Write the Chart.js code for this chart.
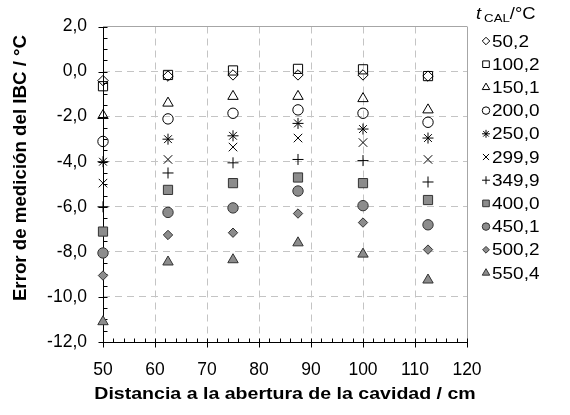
<!DOCTYPE html>
<html>
<head>
<meta charset="utf-8">
<script src="https://cdn.jsdelivr.net/npm/chart.js@4/dist/chart.umd.min.js"></script>
<style>
    html, body { margin: 0; padding: 0; background: #fff; }
    .canvas { width: 570px; height: 415px; }
</style>
</head>
<body>
<div class="canvas"><canvas id="errChart" width="570" height="415"></canvas></div>
<script>
// distancias medidas (cm)
const distancias = [50, 62.5, 75, 87.5, 100, 112.5];

// error de medicion por temperatura de calibracion (°C)
const t50_2 = [-0.4, -0.2, -0.15, -0.15, -0.15, -0.2];
const t100_2 = [-0.65, -0.15, 0.05, 0.12, 0.1, -0.2];
const t150_1 = [-1.95, -1.4, -1.1, -1.1, -1.2, -1.7];
const t200_0 = [-3.1, -2.1, -1.85, -1.7, -1.85, -2.25];
const t250_0 = [-4.0, -3.0, -2.85, -2.3, -2.55, -2.95];
const t299_9 = [-4.95, -3.9, -3.35, -2.95, -3.15, -3.9];
const t349_9 = [-6.0, -4.5, -4.05, -3.9, -3.95, -4.9];
const t400_0 = [-7.1, -5.25, -4.95, -4.7, -4.95, -5.7];
const t450_1 = [-8.05, -6.25, -6.05, -5.3, -5.95, -6.8];
const t500_2 = [-9.05, -7.25, -7.15, -6.3, -6.7, -7.9];
const t550_4 = [-11.1, -8.45, -8.35, -7.6, -8.1, -9.25];

const etiquetas = ['50,2', '100,2', '150,1', '200,0', '250,0', '299,9', '349,9', '400,0', '450,1', '500,2', '550,4'];
const series = [t50_2, t100_2, t150_1, t200_0, t250_0, t299_9, t349_9, t400_0, t450_1, t500_2, t550_4];

const GRIS = '#8c8c8c';
const HUECO = 'rgba(0,0,0,0)';
const estilos = [
    { pointStyle: 'rectRot', radius: 5.2, fill: HUECO, border: '#000' },
    { pointStyle: 'rect', radius: 6.5, fill: HUECO, border: '#000' },
    { pointStyle: 'triangle', radius: 6, fill: HUECO, border: '#000' },
    { pointStyle: 'circle', radius: 5.2, fill: HUECO, border: '#000' },
    { pointStyle: 'star', radius: 5.5, fill: HUECO, border: '#000' },
    { pointStyle: 'crossRot', radius: 6, fill: HUECO, border: '#000' },
    { pointStyle: 'cross', radius: 5.5, fill: HUECO, border: '#000' },
    { pointStyle: 'rect', radius: 6.5, fill: GRIS, border: '#333' },
    { pointStyle: 'circle', radius: 5.2, fill: GRIS, border: '#333' },
    { pointStyle: 'rectRot', radius: 4.7, fill: GRIS, border: '#333' },
    { pointStyle: 'triangle', radius: 6, fill: GRIS, border: '#333' },
];

const FUENTE = "'Liberation Sans', Arial, sans-serif";
const ESTIRA = 1.15; // el original esta algo estirado en horizontal
Chart.defaults.font.family = FUENTE;
Chart.defaults.font.size = 17.5;
Chart.defaults.color = '#000';

const datasets = series.map((s, i) => ({
    label: etiquetas[i],
    data: s.map((v, j) => ({ x: distancias[j], y: v })),
    showLine: false,
    clip: false,
    pointStyle: estilos[i].pointStyle,
    pointRadius: estilos[i].radius,
    pointHoverRadius: estilos[i].radius,
    pointBackgroundColor: estilos[i].fill,
    pointBorderColor: estilos[i].border,
    pointBorderWidth: 1,
}));

function coma(v) {
    return v.toFixed(1).replace('.', ',');
}

function textoEstirado(ctx, txt, x, y) {
    ctx.save();
    ctx.translate(x, y);
    ctx.scale(ESTIRA, 1);
    ctx.fillText(txt, 0, 0);
    ctx.restore();
    return ctx.measureText(txt).width * ESTIRA;
}

// ejes, ticks menores, titulos y leyenda
const extras = {
    id: 'extras',
    beforeDatasetsDraw(chart) {
        const ctx = chart.ctx;
        const xs = chart.scales.x;
        const ys = chart.scales.y;
        const area = chart.chartArea;
        const x0 = Math.round(area.left) + 0.5;
        const y0 = Math.round(area.bottom) + 0.5;
        ctx.save();
        ctx.strokeStyle = '#000';
        ctx.lineWidth = 1;
        ctx.beginPath();
        ctx.moveTo(x0, Math.round(area.top));
        ctx.lineTo(x0, y0);
        ctx.lineTo(Math.round(area.right) + 1, y0);
        for (let v = -12; v <= 2.001; v += 0.5) {
            const y = Math.round(ys.getPixelForValue(v)) + 0.5;
            const mayor = Math.abs(v % 2) < 0.001;
            ctx.moveTo(x0 - (mayor ? 5 : 0), y);
            ctx.lineTo(x0 + 4, y);
        }
        for (let v = 50; v <= 120; v += 2) {
            const x = Math.round(xs.getPixelForValue(v)) + 0.5;
            const mayor = v % 10 === 0;
            ctx.moveTo(x, y0 + (mayor ? 5 : 0));
            ctx.lineTo(x, y0 - 4);
        }
        ctx.stroke();
        ctx.restore();
    },
    afterDraw(chart) {
        const ctx = chart.ctx;
        const area = chart.chartArea;
        ctx.save();
        ctx.fillStyle = '#000';

        // titulos de ejes
        ctx.font = 'bold 17px ' + FUENTE;
        ctx.textAlign = 'center';
        ctx.textBaseline = 'middle';
        textoEstirado(ctx, 'Distancia a la abertura de la cavidad / cm', (area.left + area.right) / 2, 394);
        ctx.save();
        ctx.translate(21, 168);
        ctx.rotate(-Math.PI / 2);
        ctx.scale(1.1, 1.08);
        ctx.fillText('Error de medición del IBC / °C', 0, 0);
        ctx.restore();

        // leyenda
        ctx.textAlign = 'left';
        ctx.textBaseline = 'alphabetic';
        let tx = 476;
        ctx.font = 'italic 16px ' + FUENTE;
        tx += textoEstirado(ctx, 't', tx, 19) + 3;
        ctx.font = '11.5px ' + FUENTE;
        tx += textoEstirado(ctx, 'CAL', tx, 22);
        ctx.font = '16px ' + FUENTE;
        textoEstirado(ctx, '/°C', tx, 19);

        ctx.textBaseline = 'middle';
        for (let i = 0; i < etiquetas.length; i++) {
            const y = 41 + i * 23.2;
            ctx.fillStyle = estilos[i].fill;
            ctx.strokeStyle = estilos[i].border;
            ctx.lineWidth = 1;
            Chart.helpers.drawPoint(ctx, {
                pointStyle: estilos[i].pointStyle,
                radius: estilos[i].radius * 0.72,
                rotation: 0,
                borderWidth: 1,
            }, 486, y);
            ctx.fillStyle = '#000';
            ctx.font = '16.5px ' + FUENTE;
            textoEstirado(ctx, etiquetas[i], 492, y + 1);
        }
        ctx.restore();
    },
};

const errChart = new Chart(document.getElementById('errChart'), {
    type: 'scatter',
    data: { datasets: datasets },
    options: {
        responsive: false,
        animation: false,
        devicePixelRatio: 1,
        layout: { padding: { top: 19, right: 103, left: 0, bottom: 0 } },
        plugins: {
            legend: { display: false },
            tooltip: { enabled: false },
        },
        scales: {
            x: {
                type: 'linear',
                min: 50,
                max: 120,
                afterFit: s => { s.height = 73; },
                ticks: { stepSize: 10, padding: 18, callback: v => v },
                grid: {
                    drawTicks: false,
                    color: ctx => {
                        if (!ctx.tick) return '#c4c4c4';
                        if (ctx.tick.value === 50) return 'rgba(0,0,0,0)';
                        return ctx.tick.value === 120 ? '#a6a6a6' : '#c4c4c4';
                    },
                },
                border: {
                    display: false,
                    dash: ctx => (ctx.tick && ctx.tick.value === 120 ? [] : [7, 5]),
                },
            },
            y: {
                min: -12,
                max: 2,
                afterFit: s => { s.width = 103; },
                ticks: { stepSize: 2, padding: 16, callback: v => coma(v) },
                grid: {
                    drawTicks: false,
                    color: ctx => {
                        if (!ctx.tick) return '#c4c4c4';
                        if (ctx.tick.value === -12) return 'rgba(0,0,0,0)';
                        return ctx.tick.value === 2 ? '#a6a6a6' : '#c4c4c4';
                    },
                },
                border: {
                    display: false,
                    dash: ctx => (ctx.tick && ctx.tick.value === 2 ? [] : [7, 5]),
                },
            },
        },
    },
    plugins: [extras],
});
</script>
</body>
</html>
